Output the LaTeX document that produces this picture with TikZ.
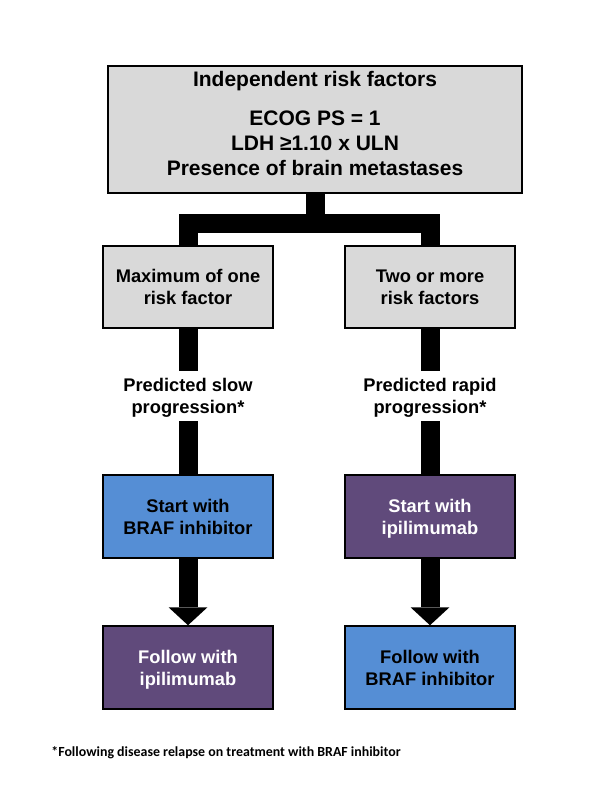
\documentclass[tikz,border=0pt]{standalone}
\usepackage{fontspec}
\setmainfont{Liberation Sans}
\newfontfamily\footfont{Carlito}
\usetikzlibrary{arrows.meta}
\definecolor{boxgray}{HTML}{D9D9D9}
\definecolor{boxblue}{HTML}{558ED5}
\definecolor{boxpurple}{HTML}{604A7B}
\newcommand{\mytop}[2]{\rule{0pt}{#1}\smash{#2}}
\newcommand{\mybot}[1]{\smash{#1}}
\tikzset{
  box/.style={draw=black, line width=1.5pt, inner sep=0pt, align=center, font=\bfseries\fontsize{18.3}{22}\selectfont},
  graybox/.style={box, fill=boxgray, minimum width=170pt, minimum height=82pt},
  bluebox/.style={box, fill=boxblue, text=black, minimum width=170pt, minimum height=83pt},
  purplebox/.style={box, fill=boxpurple, text=white, minimum width=170pt, minimum height=83pt},
  lbl/.style={inner sep=0pt, align=center, minimum height=50pt, font=\bfseries\fontsize{18.3}{22}\selectfont},
  bar/.style={draw=black, line width=19pt, line join=miter},
  arr/.style={bar, -{Triangle[width=39pt,length=18pt,line width=0pt]}}
}
\begin{document}
\begin{tikzpicture}[x=1pt,y=-1pt]
\fill[white] (0,0) rectangle (600,800);
\useasboundingbox (0,0) rectangle (600,800);

\node[box, fill=boxgray, minimum width=414pt, minimum height=127pt, font=\bfseries\fontsize{21}{25}\selectfont] (top) at (315,129.5)
  {\mytop{15pt}{Independent risk factors}\\[14pt] ECOG PS = 1\\ LDH ≥1.10 x ULN\\ \mybot{Presence of brain metastases}\rule[-13pt]{0pt}{13pt}};

\node[graybox] (mid1) at (188,287) {\mytop{13pt}{Maximum of one}\\ \mybot{risk factor}};
\node[graybox] (mid2) at (430,287) {\mytop{13pt}{Two or more}\\ \mybot{risk factors}};

\node[lbl] (lbl1) at (188,396) {\mytop{13pt}{Predicted slow}\\ \mybot{progression*}};
\node[lbl] (lbl2) at (430,396) {\mytop{13pt}{Predicted rapid}\\ \mybot{progression*}};

\node[bluebox] (start1) at (188,516.5) {\mytop{13pt}{Start with}\\ \mybot{BRAF inhibitor}};
\node[purplebox] (start2) at (430,516.5) {\mytop{13pt}{Start with}\\ \mybot{ipilimumab}};

\node[purplebox] (fol1) at (188,667.5) {\mytop{13pt}{Follow with}\\ \mybot{ipilimumab}};
\node[bluebox] (fol2) at (430,667.5) {\mytop{13pt}{Follow with}\\ \mybot{BRAF inhibitor}};

\node[inner sep=0pt, font=\footfont\bfseries\fontsize{13.9}{16}\selectfont] (foot) at (226,753) {*Following disease relapse on treatment with BRAF inhibitor};

\draw[bar] (top.south) -- ++(0,30) -| (mid1.north);
\draw[bar] (top.south) -- ++(0,30) -| (mid2.north);
\draw[bar] (mid1.south) -- (lbl1.north);
\draw[bar] (mid2.south) -- (lbl2.north);
\draw[bar] (lbl1.south) -- (start1.north);
\draw[bar] (lbl2.south) -- (start2.north);
\draw[arr] (start1.south) -- (fol1.north);
\draw[arr] (start2.south) -- (fol2.north);
\end{tikzpicture}
\end{document}
